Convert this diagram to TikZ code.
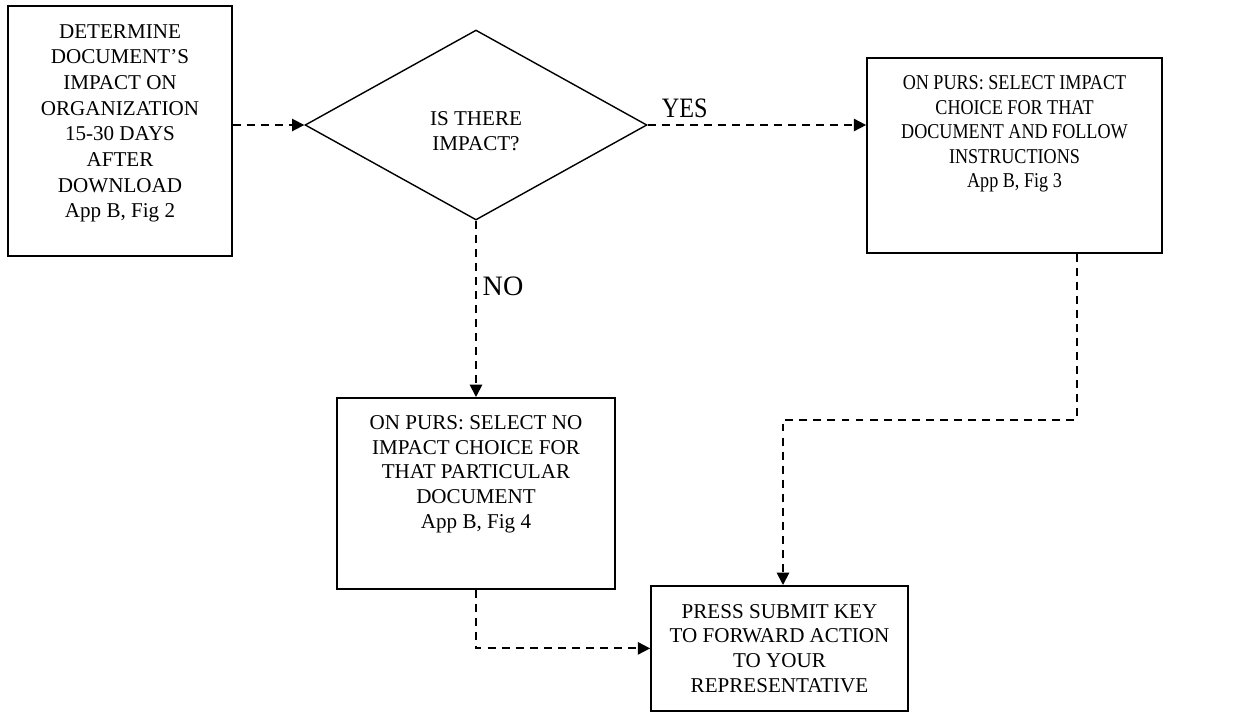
\documentclass[tikz,border=0pt]{standalone}
\usepackage{fontspec}
\setmainfont{Liberation Serif}
\newfontfamily\narrowfont[FakeStretch=0.86]{Liberation Serif}
\usetikzlibrary{shapes.geometric,arrows.meta,calc}

\begin{document}
\begin{tikzpicture}[x=0.02cm,y=-0.02cm]
	\tikzstyle{box} = [draw, line width=1pt, align=center, anchor=north, inner xsep=0pt, inner ysep=0pt, font=\fontsize{12}{14.2}\selectfont]
	\tikzstyle{decision} = [draw, diamond, line width=0.8pt, align=center, inner sep=0pt, minimum width=6.84cm, minimum height=3.8cm, text height=1.1cm, text depth=0.08cm, font=\fontsize{12}{14.5}\selectfont]
	\tikzstyle{flow} = [line width=1pt, dash pattern=on 4.5pt off 3.5pt, -{Triangle[length=7pt,width=7pt]}]
	\tikzstyle{answer} = [font=\fontsize{16}{16}\selectfont]
	\useasboundingbox (0,0) rectangle (1249,711);
	% steps, text kept near the top edge
	\node[box, minimum width=4.48cm, text height=4.24cm, text depth=0.76cm, font=\fontsize{12}{14.6}\selectfont] (det) at (120,5) {DETERMINE\\DOCUMENT’S\\IMPACT ON\\ORGANIZATION\\15-30 DAYS\\AFTER\\DOWNLOAD\\App B, Fig 2};
	\node[decision] (dia) at (476,125) {IS THERE\\IMPACT?};
	\node[box, minimum width=5.9cm, text height=2.6cm, text depth=1.3cm, font=\narrowfont\fontsize{12}{14}\selectfont] (yes) at (1014.5,57) {ON PURS: SELECT IMPACT\\CHOICE FOR THAT\\DOCUMENT AND FOLLOW\\INSTRUCTIONS\\App B, Fig 3};
	\node[box, minimum width=5.56cm, text height=2.62cm, text depth=1.2cm] (no) at (476,397) {ON PURS: SELECT NO\\IMPACT CHOICE FOR\\THAT PARTICULAR\\DOCUMENT\\App B, Fig 4};
	\node[box, minimum width=5.14cm, text height=2.14cm, text depth=0.36cm] (submit) at (779.5,585) {PRESS SUBMIT KEY\\TO FORWARD ACTION\\TO YOUR\\REPRESENTATIVE};
	% dashed flow
	\draw[flow] (det.east |- dia.west) -- (dia.west);
	\draw[flow] (dia.east) -- node[answer, pos=0.17, above, font=\narrowfont\fontsize{16}{16}\selectfont] (yeslbl) {YES} (dia.east -| yes.west);
	\draw[flow] (dia.south) -- node[answer, pos=0.37, right] (nolbl) {NO} (no.north);
	\draw[flow] (no.south) |- (submit.west);
	\draw[flow] ([xshift=1.25cm]yes.south) -- ++(0,166) -| ([xshift=0.07cm]submit.north);
\end{tikzpicture}
\end{document}
